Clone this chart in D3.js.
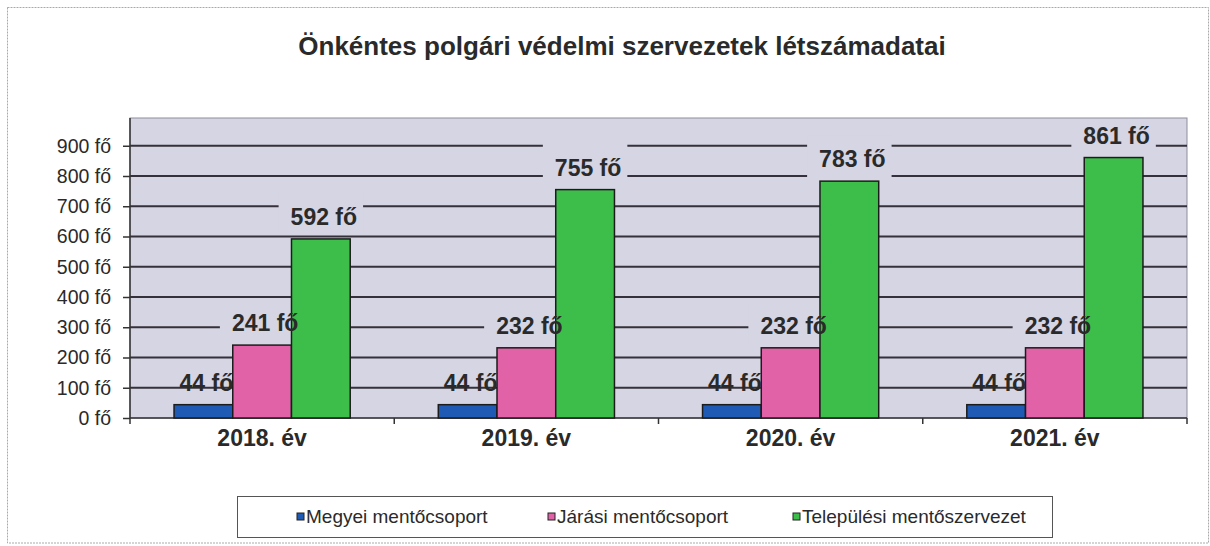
<!DOCTYPE html>
<html>
<head>
<meta charset="utf-8">
<script src="https://cdn.jsdelivr.net/npm/d3@7"></script>
<style>
  html, body { margin: 0; padding: 0; background: #fff; }
  svg { display: block; font-family: "Liberation Sans", Arial, sans-serif; }
</style>
</head>
<body>
<svg id="chart" width="1210" height="546"></svg>
<script>
// ---- data ----
const title = "Önkéntes polgári védelmi szervezetek létszámadatai";
const categories = ["2018. év", "2019. év", "2020. év", "2021. év"];
const seriesNames = ["Megyei mentőcsoport", "Járási mentőcsoport", "Települési mentőszervezet"];
const megyei = [44, 44, 44, 44];
const jarasi = [241, 232, 232, 232];
const telepulesi = [592, 755, 783, 861];
const yTicks = [0, 100, 200, 300, 400, 500, 600, 700, 800, 900];
const unit = " fő";

// ---- styles ----
const colors = ["#1F5BB5", "#E262A8", "#3DBE4B"];
const labelBg = [false, true, true];
const plotBg = "#D5D5E3";
const textCol = "#2a2a2a";

const seriesValues = [megyei, jarasi, telepulesi];

const svg = d3.select("#chart");
const plot = { left: 130, right: 1187, top: 118, bottom: 418 };

// outer border
svg.append("rect").attr("x", 7.5).attr("y", 7.5).attr("width", 1201).attr("height", 535.5)
  .attr("fill", "#fff").attr("stroke", "#aaa").attr("stroke-width", 1).attr("stroke-dasharray", "2,1");

// title
svg.append("text").attr("x", 622).attr("y", 55).attr("text-anchor", "middle")
  .attr("font-size", 26).attr("font-weight", "bold").attr("fill", textCol).text(title);

// scales
const y = d3.scaleLinear().domain([0, 900]).range([plot.bottom, 145.75]);
const x0 = d3.scaleBand().domain(categories).range([plot.left, plot.right]).paddingInner(0).paddingOuter(0);
const gap = x0.bandwidth() / 6; // 150% gap width of bar
const x1 = d3.scaleBand().domain(d3.range(seriesNames.length)).range([gap, x0.bandwidth() - gap]).padding(0);

// plot area
svg.append("rect").attr("x", plot.left).attr("y", plot.top)
  .attr("width", plot.right - plot.left).attr("height", plot.bottom - plot.top)
  .attr("fill", plotBg).attr("stroke", "#8d8d9d").attr("stroke-width", 1);

// gridlines
svg.append("g").selectAll("line").data(yTicks.filter(d => d > 0)).join("line")
  .attr("x1", plot.left).attr("x2", plot.right)
  .attr("y1", d => y(d)).attr("y2", d => y(d))
  .attr("stroke", "#35303a").attr("stroke-width", 1.8);

// y axis
const yAxis = d3.axisLeft(y).tickValues(yTicks).tickSize(7).tickPadding(12).tickFormat(d => d + unit);
const gy = svg.append("g").attr("transform", `translate(${plot.left},0)`).call(yAxis);
gy.select(".domain").attr("stroke", "#333").attr("stroke-width", 1.5).attr("d", `M-0,${plot.top}V${plot.bottom}`);
gy.selectAll(".tick line").attr("stroke", "#333").attr("stroke-width", 1.5);
gy.selectAll(".tick text").attr("font-size", 19.5).attr("fill", textCol)
  .attr("font-family", "Liberation Sans, Arial, sans-serif");

// x axis
const gx = svg.append("g").attr("transform", `translate(0,${plot.bottom})`);
gx.append("line").attr("x1", plot.left).attr("x2", plot.right).attr("y1", 0).attr("y2", 0)
  .attr("stroke", "#333").attr("stroke-width", 1.5);
const bounds = categories.map(c => x0(c)).concat([plot.right]);
gx.selectAll("line.tk").data(bounds).join("line").attr("class", "tk")
  .attr("x1", d => d).attr("x2", d => d).attr("y1", 0).attr("y2", 6)
  .attr("stroke", "#333").attr("stroke-width", 1.5);
gx.selectAll("text").data(categories).join("text")
  .attr("x", d => x0(d) + x0.bandwidth() / 2).attr("y", 28)
  .attr("text-anchor", "middle").attr("font-size", 23).attr("font-weight", "bold")
  .attr("fill", textCol).text(d => d);

// data build
const items = [];
categories.forEach((c, i) => {
  seriesValues.forEach((vals, s) => {
    items.push({ cat: c, s: s, v: vals[i], cx: x0(c) + x1(s) + x1.bandwidth() / 2 });
  });
});

const lblOffset = 14;
const bgLayer = svg.append("g");
const barLayer = svg.append("g");
const txtLayer = svg.append("g");

// bars
barLayer.selectAll("rect").data(items).join("rect")
  .attr("x", d => x0(d.cat) + x1(d.s)).attr("width", x1.bandwidth())
  .attr("y", d => y(d.v)).attr("height", d => y(0) - y(d.v))
  .attr("fill", d => colors[d.s]).attr("stroke", "#1c1c1c").attr("stroke-width", 1.5);

// labels
const texts = txtLayer.selectAll("text").data(items).join("text")
  .attr("x", d => d.cx + 3).attr("y", d => y(d.v) - lblOffset)
  .attr("text-anchor", "middle").attr("font-size", 23).attr("font-weight", "bold")
  .attr("fill", textCol).text(d => d.v + unit);

texts.each(function(d) {
  if (!labelBg[d.s]) return;
  const w = this.getComputedTextLength() + 18;
  const base = y(d.v) - lblOffset;
  const top = Math.max(plot.top + 1, base - 32);
  bgLayer.append("rect").attr("x", d.cx - w / 2).attr("y", top)
    .attr("width", w).attr("height", base + 10 - top).attr("fill", plotBg);
});

// legend
const lg = svg.append("g");
lg.append("rect").attr("x", 237.5).attr("y", 496.5).attr("width", 815).attr("height", 41)
  .attr("fill", "#fff").attr("stroke", "#555").attr("stroke-width", 1);
const legendX = [297, 548, 793];
seriesNames.forEach((n, i) => {
  lg.append("rect").attr("x", legendX[i]).attr("y", 513).attr("width", 7).attr("height", 7)
    .attr("fill", colors[i]).attr("stroke", "#222").attr("stroke-width", 1);
  lg.append("text").attr("x", legendX[i] + 9).attr("y", 523).attr("font-size", 19)
    .attr("fill", textCol).text(n);
});
</script>
</body>
</html>
